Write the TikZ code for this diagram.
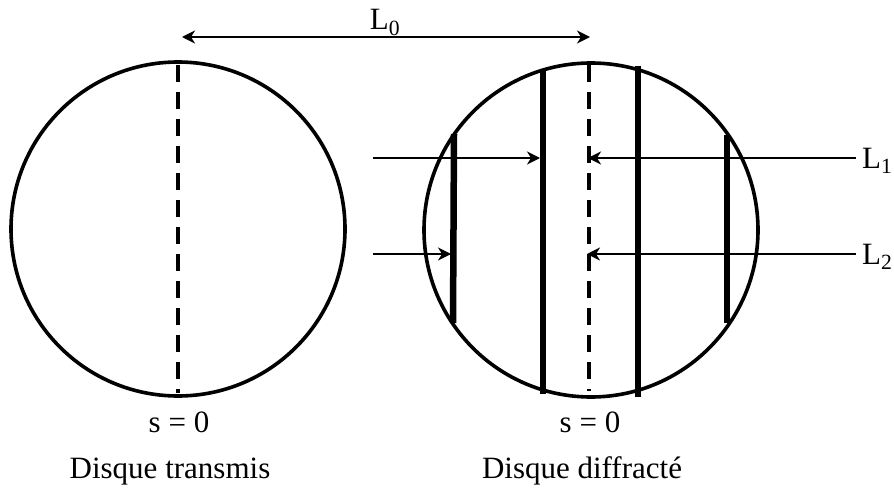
\documentclass[tikz,border=0pt]{standalone}
\usepackage{fontspec}
\setmainfont{Liberation Serif}
\usetikzlibrary{arrows.meta}

\begin{document}
\begin{tikzpicture}[
    x=1pt, y=-1pt, >={Stealth[length=13pt,width=13pt,inset=4pt]},
    font=\fontsize{31}{36}\selectfont,
    disc/.style={circle, draw, line width=3.6pt, minimum size=334pt, inner sep=0pt},
    axe/.style ={line width=3.8pt, dash pattern=on 17pt off 10pt},
    bar/.style ={line width=6.5pt},
    ray/.style ={->, line width=1.8pt},
    lbl/.style ={inner ysep=0pt, inner xsep=6pt, text depth=0pt},
]
\useasboundingbox (0,0) rectangle (894,489);
% the two discs
\node[disc] (trans) at (178,229) {};
\node[disc] (diff)  at (591,230) {};
% s = 0 axes
\draw[axe] (178,65) -- (178,393);
\draw[axe] (589,65) -- (589,391);
% diffracted lines
\coordinate (b1t) at (454,134); \coordinate (b1b) at (453,323);
\coordinate (b2t) at (543,69);  \coordinate (b2b) at (543,394);
\coordinate (b3t) at (638,66);  \coordinate (b3b) at (638,397);
\coordinate (b4t) at (727,135); \coordinate (b4b) at (727,323);
\draw[bar] (b1t) -- (b1b);
\draw[bar] (b2t) -- (b2b);
\draw[bar] (b3t) -- (b3b);
\draw[bar] (b4t) -- (b4b);
% L0
\coordinate (l0a) at (182,37);
\coordinate (l0b) at (590,37);
\node[lbl] (L0) at (385,19) {L\textsubscript{0}};
\draw[<->, line width=1.8pt] (l0a) -- (l0b);
% L1, L2
\node[lbl, anchor=west] (L1) at (856,158) {L\textsubscript{1}};
\node[lbl, anchor=west] (L2) at (856,254) {L\textsubscript{2}};
\coordinate (s1) at (373,158);
\coordinate (s2) at (373,254);
\coordinate (a1) at (589,158);
\coordinate (a2) at (589,254);
\draw[ray, shorten >=3pt] (s1) -- (b2t |- s1);
\draw[ray, shorten >=3pt] (s2) -- (b1t |- s2);
\draw[ray, shorten >=-1pt] (L1.west) -- (a1);
\draw[ray, shorten >=-2pt] (L2.west) -- (a2);
% captions
\node[anchor=base] (s0a) at (179,432) {s = 0};
\node[anchor=base] (s0b) at (590,432) {s = 0};
\node[anchor=base] (capa) at (170,478) {Disque transmis};
\node[anchor=base] (capb) at (582,478) {Disque diffracté};
\end{tikzpicture}
\end{document}
